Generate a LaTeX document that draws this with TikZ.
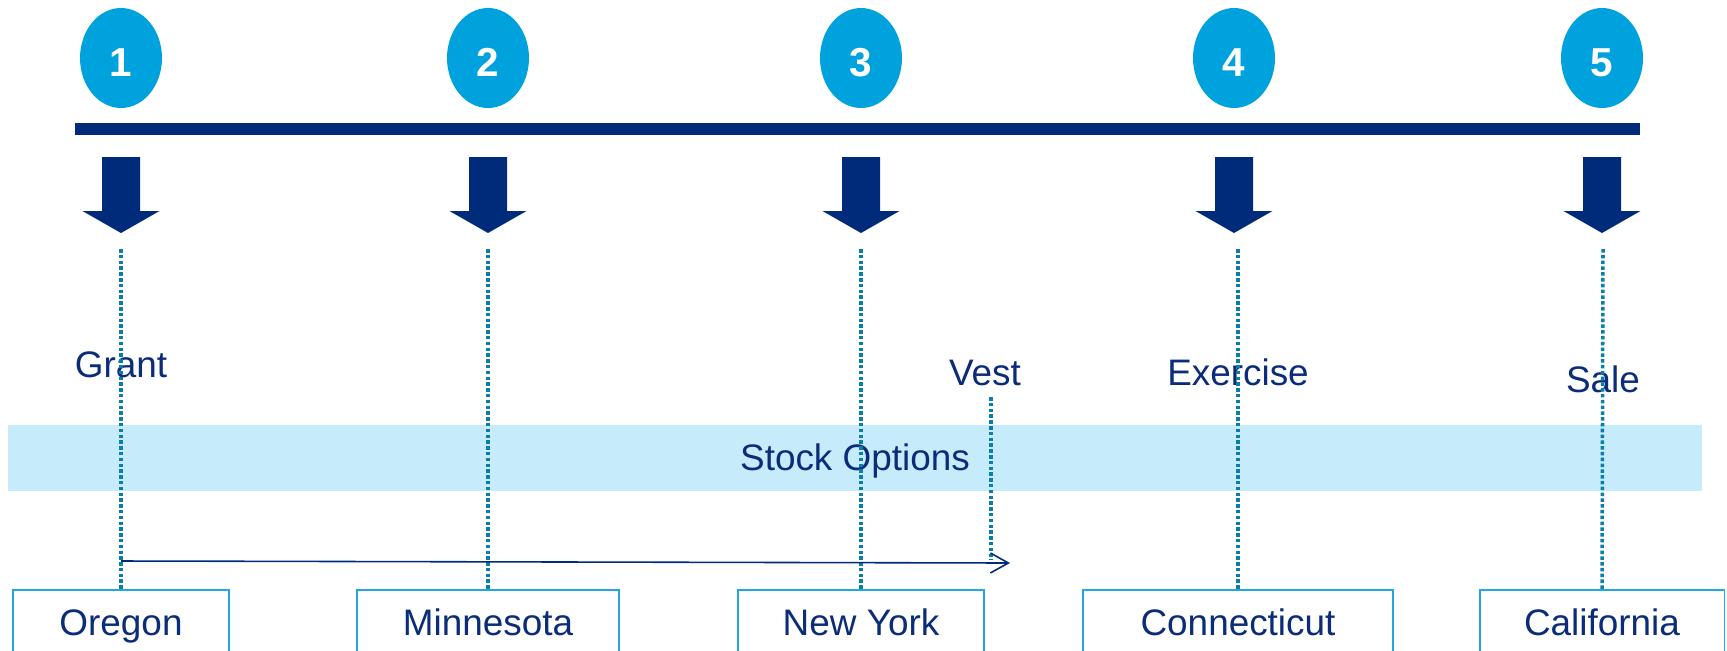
\documentclass[tikz,border=0pt]{standalone}
\usepackage{fontspec}
\setmainfont{Liberation Sans}
\usetikzlibrary{shapes.geometric,arrows.meta}
\definecolor{navy}{HTML}{002A7A}
\definecolor{ink}{HTML}{0B2C78}
\definecolor{sky}{HTML}{00A2DD}
\definecolor{teal}{HTML}{0A7EAA}
\definecolor{band}{HTML}{C6ECFC}
\definecolor{frame}{HTML}{22A8DF}
\begin{document}
\begin{tikzpicture}[x=0.02cm,y=-0.02cm]
		\tikzset{num/.style = {shape=ellipse,fill=sky,text=white,inner sep=0pt,minimum width=1.64cm,minimum height=2cm,text height=20.5pt,text depth=0pt,font=\fontsize{23}{26}\selectfont\bfseries}}
		\tikzset{lbl/.style = {text=ink,anchor=base,inner sep=0pt,font=\fontsize{21}{24}\selectfont}}
		\tikzset{state/.style = {draw=frame,line width=1.1pt,text=ink,anchor=north,minimum width=#1,text height=0.55cm,text depth=0.4cm,inner ysep=0.37cm,font=\fontsize{21}{24}\selectfont}}
		\tikzset{dots/.style = {draw=teal,line width=2pt,dash pattern=on 2pt off 1.3pt}}
		\tikzset{downarrow/.style = {fill=navy}}
		\useasboundingbox (0,0) rectangle (1727,650);
		\clip (0,0) rectangle (1727,650);
		% step numbers
		\node[num] (n1) at (121,58) {1};
		\node[num] (n2) at (488,58) {2};
		\node[num] (n3) at (861,58) {3};
		\node[num] (n4) at (1234,58) {4};
		\node[num] (n5) at (1602,58) {5};
		% timeline
		\draw[navy,line width=0.24cm] (75,129) -- (1640,129);
		\foreach \x in {121,488,861,1234,1602}
			\fill[downarrow] (\x-19,157) -- (\x+19,157) -- (\x+19,211) -- (\x+38.5,211) -- (\x,233) -- (\x-38.5,211) -- (\x-19,211) -- cycle;
		% band
		\fill[band] (8,425) rectangle (1702,491);
		\node[lbl] (so) at (855,470) {Stock Options};
		% event labels
		\node[lbl] (grant) at (121,377) {Grant};
		\node[lbl] (vest) at (985,385) {Vest};
		\node[lbl] (exercise) at (1238,385) {Exercise};
		\node[lbl] (sale) at (1603,392) {Sale};
		% states
		\node[state=4.32cm] (or) at (121,589) {Oregon};
		\node[state=5.24cm] (mn) at (488,589) {Minnesota};
		\node[state=4.92cm] (ny) at (861,589) {New York};
		\node[state=6.2cm] (ct) at (1238,589) {Connecticut};
		\node[state=4.9cm] (ca) at (1602,589) {California};
		% dotted drops
		\coordinate (t1) at (121,249);
		\coordinate (t2) at (488,249);
		\coordinate (t3) at (861,249);
		\coordinate (t4) at (1238,249);
		\coordinate (t5) at (1603,249);
		\draw[dots] (t1) -- (or.north);
		\draw[dots] (t2) -- (mn.north);
		\draw[dots] (t3) -- (ny.north);
		\draw[dots] (t4) -- (ct.north);
		\draw[dots] (t5) -- (ca.north);
		\coordinate (vtop) at (991,397);
		\coordinate (vbot) at (991,560);
		\draw[dots] (vtop) -- (vbot);
		% vesting period
		\coordinate (g) at (121,561);
		\coordinate (v) at (1010,563);
		\draw[navy,line width=0.9pt,-{Straight Barb[length=0.36cm,width=0.4cm]}] (g) -- (v);
	\end{tikzpicture}
\end{document}
